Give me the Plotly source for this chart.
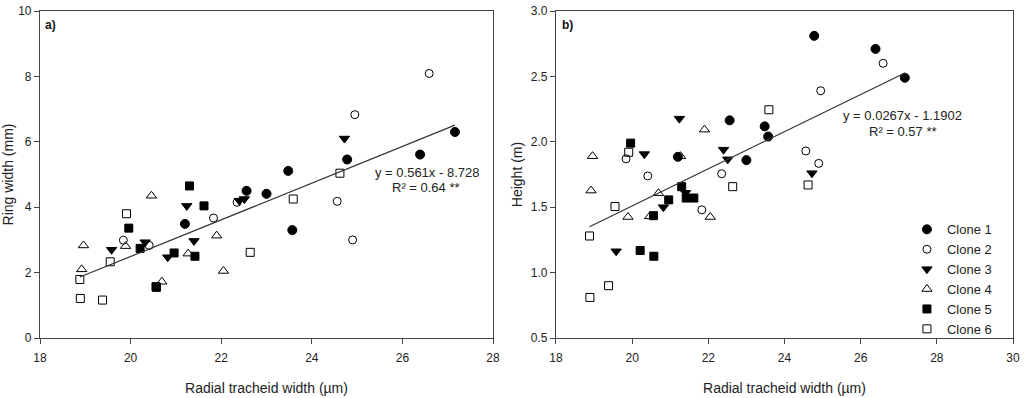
import numpy as np
import plotly.graph_objects as go

# Radial tracheid width (µm) per clone (same trees in both panels)
clone_names = ["Clone 1", "Clone 2", "Clone 3", "Clone 4", "Clone 5", "Clone 6"]

x_c1 = [21.2, 22.56, 23.0, 23.48, 23.57, 24.78, 26.39, 27.16]
x_c2 = [19.84, 20.41, 21.83, 22.35, 24.56, 24.90, 24.95, 26.59]
x_c3 = [19.58, 20.32, 20.82, 21.24, 21.40, 22.40, 22.51, 24.72]
x_c4 = [18.92, 18.96, 19.89, 20.46, 20.69, 21.27, 21.90, 22.05]
x_c5 = [19.96, 20.21, 20.56, 20.57, 20.96, 21.30, 21.42, 21.62]
x_c6 = [18.88, 18.89, 19.38, 19.55, 19.91, 22.64, 23.59, 24.62]

# Ring width (mm)
ring_c1 = [3.49, 4.50, 4.41, 5.11, 3.30, 5.46, 5.61, 6.30]
ring_c2 = [2.99, 2.83, 3.67, 4.15, 4.18, 3.00, 6.83, 8.09]
ring_c3 = [2.70, 2.93, 2.47, 4.04, 2.97, 4.20, 4.25, 6.10]
ring_c4 = [2.10, 2.83, 2.81, 4.35, 1.72, 2.58, 3.13, 2.05]
ring_c5 = [3.36, 2.74, 1.57, 1.55, 2.60, 4.65, 2.50, 4.04]
ring_c6 = [1.79, 1.21, 1.16, 2.33, 3.80, 2.62, 4.25, 5.04]

# Height (m)
height_c1 = [1.885, 2.164, 1.86, 2.118, 2.04, 2.81, 2.71, 2.49]
height_c2 = [1.87, 1.739, 1.48, 1.756, 1.93, 1.835, 2.39, 2.60]
height_c3 = [1.163, 1.906, 1.50, 2.177, 1.61, 1.94, 1.866, 1.76]
height_c4 = [1.627, 1.89, 1.425, 1.43, 1.607, 1.89, 2.093, 1.425]
height_c5 = [1.99, 1.169, 1.435, 1.125, 1.556, 1.657, 1.57, 1.57]
height_c6 = [1.28, 0.81, 0.90, 1.505, 1.92, 1.657, 2.245, 1.67]

xs = [x_c1, x_c2, x_c3, x_c4, x_c5, x_c6]
rings = [ring_c1, ring_c2, ring_c3, ring_c4, ring_c5, ring_c6]
heights = [height_c1, height_c2, height_c3, height_c4, height_c5, height_c6]

symbols = ["circle", "circle-open", "triangle-down", "triangle-up-open", "square", "square-open"]
sizes = [9, 8, 9, 9, 8, 8]

# Regression text shown on the chart
eq_a = ["y = 0.561x - 8.728", "R² = 0.64 **"]
eq_b = ["y = 0.0267x - 1.1902", "R² = 0.57 **"]

all_x = np.array([v for arr in xs for v in arr])
all_h = np.array([v for arr in heights for v in arr])
xmin, xmax = all_x.min(), all_x.max()
fit_a = (0.561, -8.728)
fit_b = tuple(np.polyfit(all_x, all_h, 1))

fig = go.Figure()

for i in range(6):
    fig.add_trace(go.Scatter(
        x=xs[i], y=rings[i], mode="markers", name=clone_names[i],
        marker=dict(symbol=symbols[i], size=sizes[i], color="black",
                    line=dict(color="black", width=1)),
        xaxis="x", yaxis="y", showlegend=False))
    fig.add_trace(go.Scatter(
        x=xs[i], y=heights[i], mode="markers", name=clone_names[i],
        marker=dict(symbol=symbols[i], size=sizes[i], color="black",
                    line=dict(color="black", width=1)),
        xaxis="x2", yaxis="y2", showlegend=True))

fig.add_trace(go.Scatter(
    x=[xmin, xmax], y=[fit_a[0] * xmin + fit_a[1], fit_a[0] * xmax + fit_a[1]],
    mode="lines", line=dict(color="#333333", width=1.2), showlegend=False,
    xaxis="x", yaxis="y"))
fig.add_trace(go.Scatter(
    x=[xmin, xmax], y=[fit_b[0] * xmin + fit_b[1], fit_b[0] * xmax + fit_b[1]],
    mode="lines", line=dict(color="#333333", width=1.2), showlegend=False,
    xaxis="x2", yaxis="y2"))

axis_common = dict(showline=True, linecolor="#444444", linewidth=1.2, mirror=True,
                   ticks="outside", ticklen=5, tickcolor="#444444", tickwidth=1,
                   showgrid=False, zeroline=False, automargin=False,
                   ticklabeloverflow="allow",
                   tickfont=dict(family="Liberation Sans, Arial", size=12, color="#222222"))
title_font = dict(family="Liberation Sans, Arial", size=14, color="#222222")
ann_font = dict(family="Liberation Sans, Arial", size=13, color="#222222")

fig.update_layout(
    width=1024, height=398,
    margin=dict(l=40, r=11, t=11, b=60),
    paper_bgcolor="white", plot_bgcolor="white",
    font=dict(family="Liberation Sans, Arial", color="#222222"),
    xaxis=dict(domain=[0, 0.4656], range=[18, 28], dtick=2, anchor="y", ticklabelstandoff=3,
               title=dict(text="Radial tracheid width (µm)", font=title_font, standoff=19),
               **axis_common),
    yaxis=dict(domain=[0, 1], range=[0, 10], dtick=2, anchor="x",
               title=dict(text="Ring width (mm)", font=title_font, standoff=6),
               **axis_common),
    xaxis2=dict(domain=[0.5303, 1], range=[18, 30], dtick=2, anchor="y2", ticklabelstandoff=3,
                title=dict(text="Radial tracheid width (µm)", font=title_font, standoff=19),
                **axis_common),
    yaxis2=dict(domain=[0, 1], range=[0.5, 3.0], dtick=0.5, tickformat=".1f", anchor="x2",
                title=dict(text="Height (m)", font=title_font, standoff=4),
                **axis_common),
    legend=dict(x=0.891, y=0.378, xanchor="left", yanchor="top",
                font=dict(family="Liberation Sans, Arial", size=13, color="#222222"),
                bgcolor="rgba(0,0,0,0)", itemwidth=30, tracegroupgap=0),
    annotations=[
        dict(text="<b>a)</b>", x=0.003, y=0.985, xref="paper", yref="paper",
             xanchor="left", yanchor="top", showarrow=False,
             font=dict(family="Liberation Sans, Arial", size=12, color="#111111")),
        dict(text="<b>b)</b>", x=0.534, y=0.985, xref="paper", yref="paper",
             xanchor="left", yanchor="top", showarrow=False,
             font=dict(family="Liberation Sans, Arial", size=12, color="#111111")),
        dict(text=eq_a[0], x=26.55, y=5.05, xref="x", yref="y", showarrow=False,
             xanchor="center", yanchor="middle", font=ann_font),
        dict(text=eq_a[1], x=26.52, y=4.59, xref="x", yref="y", showarrow=False,
             xanchor="center", yanchor="middle", font=ann_font),
        dict(text=eq_b[0], x=27.11, y=2.20, xref="x2", yref="y2", showarrow=False,
             xanchor="center", yanchor="middle", font=ann_font),
        dict(text=eq_b[1], x=27.11, y=2.08, xref="x2", yref="y2", showarrow=False,
             xanchor="center", yanchor="middle", font=ann_font),
    ],
)

fig.write_html("out.html", config={"displayModeBar": False},
               post_script="document.body.style.margin='0';document.body.style.overflow='hidden';")
